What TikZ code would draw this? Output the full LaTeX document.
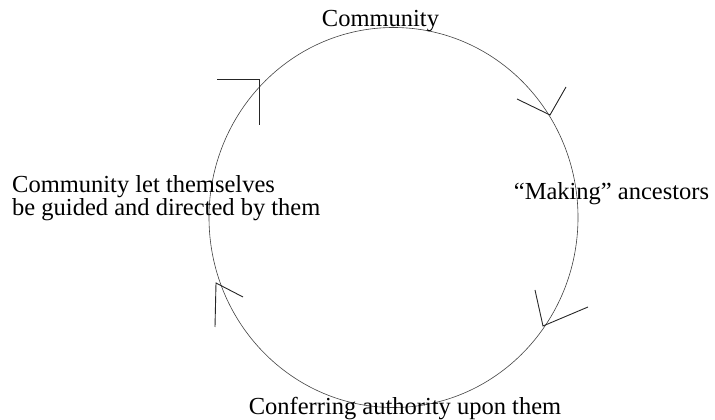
\documentclass[tikz,border=0pt]{standalone}
\usepackage{fontspec}
\setmainfont{Liberation Serif}
\usepackage{tikz}
\usetikzlibrary{positioning}

\tikzset{
	lbl/.style={inner sep=0pt,font=\fontsize{24.5}{20}\selectfont},
	ring/.style={draw=black!75,line width=0.6pt},
	barb/.style={draw=black!85,line width=0.9pt}
}

\begin{document}
\begin{tikzpicture}[x=1pt,y=1pt]
			\useasboundingbox (0,0) rectangle (715,420);
			\coordinate (c) at (393.5,202.5);
			\draw[ring] (c) ellipse [x radius=184.5,y radius=190];
			% labels
			\node[lbl,anchor=base] (top) at (380.5,393) {Community};
			\node[lbl,anchor=base] (right) at (611.5,220) {``Making'' ancestors};
			\node[lbl,anchor=base] (bottom) at (405,5) {Conferring authority upon them};
			\node[lbl,anchor=north west,align=left] (left) at (12,245) {Community let themselves\\be guided and directed by them};
			% arrow heads, clockwise
			\coordinate (tl) at (259,341);
			\coordinate (tr) at (550,305);
			\coordinate (br) at (543,94);
			\coordinate (bl) at (216,137);
			\draw[barb] (tl) ++(-42,0) -- (tl) -- ++(0,-46);
			\draw[barb] (tr) ++(-33,16) -- (tr) -- ++(16,28);
			\draw[barb] (br) ++(-8,36) -- (br) -- ++(45,19);
			\draw[barb] (bl) ++(27,-14) -- (bl) -- ++(-1,-44);
	\end{tikzpicture}
\end{document}
